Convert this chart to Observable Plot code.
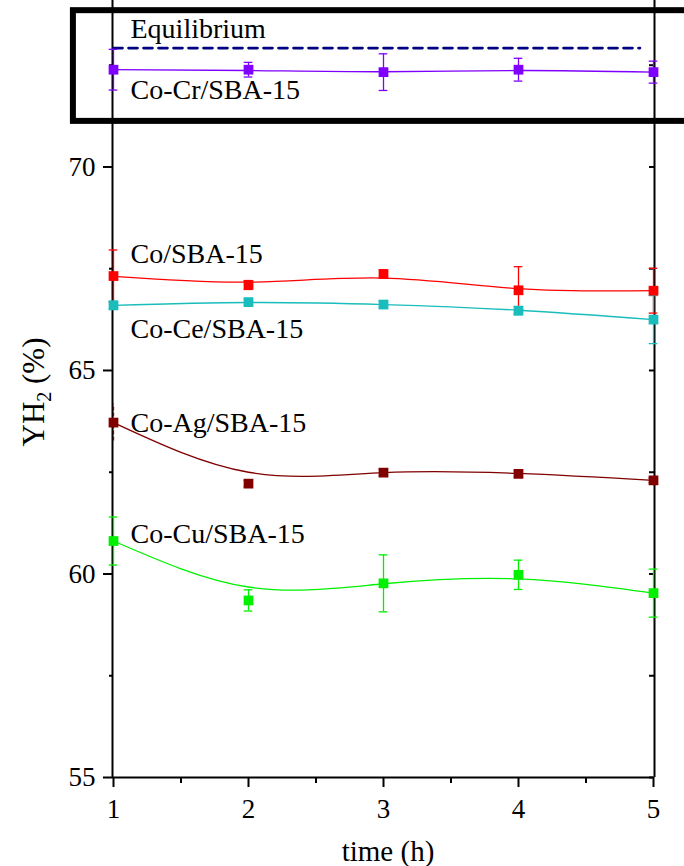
<!DOCTYPE html>
<html>
<head>
<meta charset="utf-8">
<script src="https://cdn.jsdelivr.net/npm/d3@7"></script>
<script src="https://cdn.jsdelivr.net/npm/@observablehq/plot@0.6"></script>
<style>
  html, body { margin: 0; padding: 0; background: #fff; }
  #chart svg { display: block; }
</style>
</head>
<body>
<div id="chart"></div>
<script>
// ---- data ----
const times = [1, 2, 3, 4, 5];
const seriesNames = ["Co-Cr/SBA-15", "Co/SBA-15", "Co-Ce/SBA-15", "Co-Ag/SBA-15", "Co-Cu/SBA-15"];
const seriesColors = ["#7f00ff", "#ff0000", "#1abcbc", "#800000", "#00f000"];

const crMean = [72.39, 72.39, 72.33, 72.39, 72.33];
const crErr  = [0.50, 0.18, 0.45, 0.28, 0.27];
const crFit  = [72.39, 72.37, 72.34, 72.37, 72.33];

const coMean = [67.32, 67.10, 67.37, 66.97, 66.96];
const coErr  = [0.64, 0.11, 0.10, 0.58, 0.55];
const coFit  = [67.31, 67.17, 67.27, 67.01, 66.96];

const ceMean = [66.60, 66.68, 66.62, 66.47, 66.25];
const ceErr  = [0.10, 0.08, 0.08, 0.10, 0.59];
const ceFit  = [66.60, 66.67, 66.62, 66.48, 66.25];

const agMean = [63.72, 62.22, 62.49, 62.46, 62.30];
const agErr  = [0.45, 0.08, 0.08, 0.08, 0.06];
const agFit  = [63.72, 62.50, 62.49, 62.47, 62.30];

const cuMean = [60.81, 59.35, 59.77, 59.98, 59.53];
const cuErr  = [0.59, 0.26, 0.70, 0.36, 0.59];
const cuFit  = [60.81, 59.68, 59.76, 59.88, 59.53];

const equilibriumValue = 72.92;
const equilibriumSpan = [1, 4.9];

// label positions (data units, baseline)
const labelTexts = ["Equilibrium", "Co-Cr/SBA-15", "Co/SBA-15", "Co-Ce/SBA-15", "Co-Ag/SBA-15", "Co-Cu/SBA-15"];
const labelY     = [73.16, 71.68, 67.63, 65.79, 63.48, 60.75];

// highlight box around the Co-Cr series (data units)
const boxX = [0.703, 5.35];
const boxY = [71.12, 73.84];

const yMajorTicks = [55, 60, 65, 70];
const yMinorTicks = [57.5, 62.5, 67.5, 72.5];
const xMajorTicks = [1, 2, 3, 4, 5];
const xMinorTicks = [1.5, 2.5, 3.5, 4.5];

// ---- build table ----
const means = [crMean, coMean, ceMean, agMean, cuMean];
const errs  = [crErr, coErr, ceErr, agErr, cuErr];
const fits  = [crFit, coFit, ceFit, agFit, cuFit];
const rows = [];
seriesNames.forEach((s, i) => {
  times.forEach((t, j) => {
    rows.push({series: s, color: seriesColors[i], time: t, mean: means[i][j], err: errs[i][j], fit: fits[i][j], dashed: s === "Co-Ag/SBA-15" && j === 0});
  });
});
const capRows = rows.filter(d => !d.dashed);
const eqRows = equilibriumSpan.map(t => ({time: t, y: equilibriumValue}));
const labelRows = labelTexts.map((t, i) => ({text: t, y: labelY[i]}));
const capHalf = 0.032;

const font = "'Liberation Serif', 'Times New Roman', serif";

const chart = Plot.plot({
  width: 684,
  height: 866,
  marginLeft: 113,
  marginRight: 31,
  marginTop: 0,
  marginBottom: 89,
  x: {domain: [1, 5]},
  y: {domain: [55, 74.09]},
  color: {type: "identity"},
  style: {fontFamily: font, background: "#fff", color: "#000", overflow: "visible"},
  marks: [
    // axis frame lines
    Plot.ruleX([1], {stroke: "#000", strokeWidth: 2, dx: -1}),
    Plot.ruleX([5], {stroke: "#000", strokeWidth: 2, dx: 1}),
    Plot.ruleY([55], {stroke: "#000", strokeWidth: 2}),
    // axes
    Plot.axisY({ticks: yMajorTicks, tickSize: 10, tickPadding: 8, fontSize: 27, fontFamily: font, tickFormat: d => String(d), label: null, strokeWidth: 2}),
    Plot.axisY({ticks: yMinorTicks, tickSize: 4, tickFormat: () => "", label: null, strokeWidth: 2}),
    Plot.axisY({anchor: "right", ticks: yMajorTicks.concat(yMinorTicks), tickSize: -5, tickFormat: () => "", label: null, strokeWidth: 2}),
    Plot.axisX({ticks: xMajorTicks, tickSize: 10, tickPadding: 11, fontSize: 27, fontFamily: font, tickFormat: d => String(d), label: null, strokeWidth: 2}),
    Plot.axisX({ticks: xMinorTicks, tickSize: 6, tickFormat: () => "", label: null, strokeWidth: 2}),
    // equilibrium
    Plot.line(eqRows, {x: "time", y: "y", stroke: "#000080", strokeWidth: 2.6, strokeDasharray: "9,6"}),
    // fitted curves
    Plot.line(rows, {x: "time", y: "fit", z: "series", stroke: "color", strokeWidth: 1.3, curve: "natural"}),
    // error bars
    Plot.ruleX(rows.filter(d => !d.dashed), {x: "time", y1: d => d.mean - d.err, y2: d => d.mean + d.err, stroke: "color", strokeWidth: 1.3}),
    Plot.ruleX(rows.filter(d => d.dashed), {x: "time", y1: d => d.mean - d.err, y2: d => d.mean + d.err, stroke: "color", strokeWidth: 1.3, strokeDasharray: "4,2"}),
    Plot.ruleY(capRows, {y: d => d.mean - d.err, x1: d => d.time - capHalf, x2: d => d.time + capHalf, stroke: "color", strokeWidth: 1.3}),
    Plot.ruleY(capRows, {y: d => d.mean + d.err, x1: d => d.time - capHalf, x2: d => d.time + capHalf, stroke: "color", strokeWidth: 1.3}),
    // markers
    Plot.dot(rows, {x: "time", y: "mean", fill: "color", symbol: "square", r: 5.5}),
    // labels
    Plot.text(labelRows, {x: 1, y: "y", text: "text", textAnchor: "start", lineAnchor: "bottom", dx: 17, fontSize: 28, fontFamily: font, fill: "#000"}),
    // highlight box
    Plot.rect([{x1: boxX[0], x2: boxX[1], y1: boxY[0], y2: boxY[1]}], {x1: "x1", x2: "x2", y1: "y1", y2: "y2", fill: "none", stroke: "#000", strokeWidth: 6})
  ]
});

const svg = d3.select(chart);
// y-axis title with subscript
const yt = svg.append("text")
  .attr("transform", "translate(43.5,392) rotate(-90)")
  .attr("text-anchor", "middle")
  .attr("font-family", font)
  .attr("font-size", 31)
  .attr("fill", "#000");
yt.append("tspan").text("YH");
yt.append("tspan").attr("font-size", 20).attr("dy", 7).text("2");
yt.append("tspan").attr("dy", -7).text(" (%)");
// x-axis title
svg.append("text")
  .attr("x", 388).attr("y", 861)
  .attr("text-anchor", "middle")
  .attr("font-family", font)
  .attr("font-size", 29)
  .attr("fill", "#000")
  .text("time (h)");

document.getElementById("chart").appendChild(chart);
</script>
</body>
</html>
